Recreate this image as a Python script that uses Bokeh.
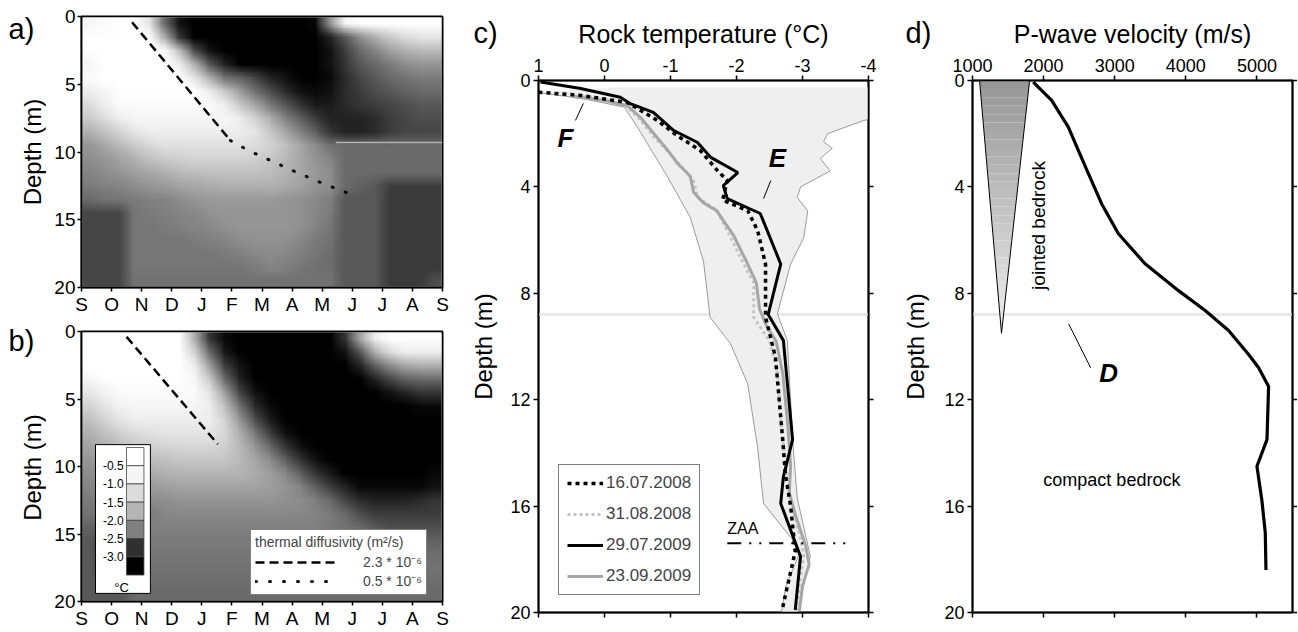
import zlib
import struct
import base64
import numpy as np
from bokeh.plotting import figure
from bokeh.models import (Range1d, LinearAxis, FixedTicker, Legend, LegendItem, Label, Span)
from bokeh.layouts import row, column
from bokeh.embed import file_html
from bokeh.resources import INLINE

FONT = "Liberation Sans"

# ---------------- data ----------------
months = ["S", "O", "N", "D", "J", "F", "M", "A", "M", "J", "J", "A", "S"]
depth_ticks_ab = [0, 5, 10, 15, 20]
depth_ticks_cd = [0, 4, 8, 12, 16, 20]
temp_ticks = [1, 0, -1, -2, -3, -4]
temp_tick_labels = ["1", "0", "-1", "-2", "-3", "-4"]
vp_ticks = [1000, 2000, 3000, 4000, 5000]

# colour scale of the temperature maps (deg C), as in the colour bar
cb_levels = [0.0, -0.5, -1.0, -1.5, -2.0, -2.5, -3.0, -3.5]
cb_labels = ["-0.5", "-1.0", "-1.5", "-2.0", "-2.5", "-3.0"]
scale_T = [-3.5, -3.25, -2.75, -2.25, -1.75, -1.25, -0.75, -0.5, 0.0]
scale_grey = [0, 0, 48, 128, 181, 220, 245, 255, 255]

# temperature maps: rows = depth 0.5..19.5 m, 24 half-month columns (Sep..Aug),
# written as runs of (temperature, number of columns)
temp_a_rows = [
    [(-0.72, 1), (-0.61, 1), (-0.4, 2), (-1.07, 1), (-2.39, 1), (-3.06, 1), (-3.25, 8), (-3.16, 1), (-2.05, 1), (-0.72, 1), (-0.4, 6)],
    [(-0.4, 5), (-1.8, 1), (-2.72, 1), (-3.25, 9), (-2.89, 1), (-2.5, 1), (-2.13, 1), (-1.8, 1), (-1.48, 1), (-1.25, 1), (-1.07, 2)],
    [(-0.4, 6), (-1.59, 1), (-2.56, 1), (-3.06, 1), (-3.25, 7), (-3.06, 1), (-2.67, 1), (-2.39, 1), (-2.21, 1), (-1.96, 1), (-1.8, 1), (-1.7, 2)],
    [(-0.72, 1), (-0.4, 5), (-0.89, 1), (-1.8, 1), (-2.5, 1), (-2.89, 1), (-3.25, 6), (-3.06, 1), (-2.72, 1), (-2.5, 1), (-2.39, 1), (-2.28, 1), (-2.13, 1), (-2.05, 2)],
    [(-0.61, 1), (-0.4, 6), (-1.07, 1), (-1.8, 1), (-2.34, 1), (-2.44, 1), (-2.61, 1), (-2.89, 1), (-3.06, 1), (-3.25, 2), (-3.16, 1), (-2.79, 1), (-2.61, 1), (-2.5, 1), (-2.39, 1), (-2.34, 1), (-2.28, 2)],
    [(-0.89, 1), (-0.72, 1), (-0.4, 6), (-0.89, 1), (-1.48, 1), (-1.96, 1), (-2.34, 1), (-2.56, 1), (-2.79, 1), (-3.06, 1), (-3.16, 1), (-3.06, 1), (-2.79, 1), (-2.67, 1), (-2.56, 1), (-2.5, 1), (-2.44, 1), (-2.39, 2)],
    [(-1.25, 1), (-0.89, 1), (-0.61, 7), (-0.89, 1), (-1.48, 1), (-1.88, 1), (-2.28, 1), (-2.5, 1), (-2.72, 1), (-2.98, 2), (-2.79, 1), (-2.72, 1), (-2.67, 1), (-2.61, 1), (-2.56, 1), (-2.5, 2)],
    [(-1.48, 1), (-1.25, 1), (-0.89, 1), (-0.72, 7), (-0.89, 1), (-1.36, 1), (-1.8, 1), (-2.21, 1), (-2.44, 1), (-2.67, 1), (-2.89, 3), (-2.79, 1), (-2.67, 1), (-2.61, 1), (-2.56, 2)],
    [(-1.8, 1), (-1.59, 1), (-1.36, 1), (-1.07, 1), (-0.89, 7), (-1.07, 1), (-1.48, 1), (-1.88, 1), (-2.21, 1), (-2.44, 1), (-2.72, 1), (-2.89, 2), (-2.79, 1), (-2.67, 1), (-2.61, 3)],
    [(-2.05, 1), (-1.88, 1), (-1.7, 1), (-1.48, 1), (-1.31, 1), (-1.16, 6), (-1.25, 1), (-1.36, 1), (-1.59, 1), (-1.88, 1), (-2.13, 1), (-2.34, 1), (-2.39, 7)],
    [(-2.13, 1), (-2.05, 1), (-1.92, 1), (-1.8, 1), (-1.59, 1), (-1.48, 1), (-1.42, 1), (-1.36, 4), (-1.42, 1), (-1.53, 1), (-1.7, 1), (-1.88, 1), (-2.05, 1), (-2.21, 1), (-2.39, 7)],
    [(-2.21, 1), (-2.13, 1), (-2.05, 1), (-1.96, 1), (-1.88, 1), (-1.8, 1), (-1.7, 1), (-1.65, 1), (-1.59, 4), (-1.65, 1), (-1.76, 1), (-1.88, 1), (-2.0, 1), (-2.13, 1), (-2.39, 7)],
    [(-2.28, 1), (-2.25, 1), (-2.21, 1), (-2.13, 1), (-2.05, 1), (-2.0, 1), (-1.92, 1), (-1.88, 1), (-1.84, 1), (-1.8, 4), (-1.84, 1), (-1.92, 1), (-2.05, 1), (-2.13, 1), (-2.39, 1), (-2.44, 1), (-2.5, 1), (-2.67, 4)],
    [(-2.39, 1), (-2.34, 1), (-2.31, 1), (-2.28, 1), (-2.25, 1), (-2.21, 1), (-2.13, 1), (-2.05, 1), (-2.0, 5), (-2.05, 1), (-2.09, 1), (-2.17, 1), (-2.25, 1), (-2.5, 3), (-2.69, 4)],
    [(-2.61, 3), (-2.31, 1), (-2.28, 1), (-2.25, 1), (-2.21, 1), (-2.17, 1), (-2.09, 1), (-2.05, 5), (-2.09, 1), (-2.17, 1), (-2.28, 1), (-2.5, 3), (-2.69, 4)],
    [(-2.61, 3), (-2.31, 2), (-2.28, 1), (-2.25, 1), (-2.21, 1), (-2.17, 1), (-2.09, 1), (-2.05, 4), (-2.09, 1), (-2.21, 1), (-2.31, 1), (-2.5, 3), (-2.69, 4)],
    [(-2.61, 3), (-2.31, 4), (-2.28, 1), (-2.25, 1), (-2.21, 1), (-2.13, 1), (-2.09, 3), (-2.17, 1), (-2.28, 1), (-2.34, 1), (-2.5, 3), (-2.69, 4)],
    [(-2.61, 3), (-2.31, 6), (-2.28, 1), (-2.25, 1), (-2.17, 1), (-2.13, 1), (-2.17, 1), (-2.25, 1), (-2.31, 1), (-2.36, 1), (-2.5, 3), (-2.69, 4)],
    [(-2.61, 3), (-2.31, 8), (-2.28, 1), (-2.21, 1), (-2.25, 1), (-2.31, 1), (-2.34, 1), (-2.36, 1), (-2.5, 3), (-2.69, 4)],
    [(-2.61, 3), (-2.34, 14), (-2.5, 3), (-2.69, 3), (-2.56, 1)],
]

temp_b_rows = [
    [(-0.4, 7), (-1.8, 1), (-2.72, 1), (-3.16, 1), (-3.25, 7), (-2.72, 1), (-1.88, 1), (-0.89, 1), (-0.4, 4)],
    [(-0.4, 7), (-1.36, 1), (-2.39, 1), (-2.98, 1), (-3.25, 7), (-3.06, 1), (-2.5, 1), (-1.8, 1), (-1.25, 1), (-0.89, 3)],
    [(-0.4, 7), (-0.89, 1), (-1.96, 1), (-2.67, 1), (-3.06, 1), (-3.25, 7), (-2.89, 1), (-2.44, 1), (-2.13, 1), (-1.88, 1), (-1.8, 2)],
    [(-0.72, 1), (-0.4, 6), (-0.72, 1), (-1.48, 1), (-2.39, 1), (-2.89, 1), (-3.25, 8), (-2.89, 1), (-2.61, 1), (-2.44, 1), (-2.39, 2)],
    [(-1.07, 1), (-0.81, 1), (-0.61, 6), (-1.07, 1), (-1.96, 1), (-2.61, 1), (-3.06, 1), (-3.25, 8), (-3.06, 1), (-2.89, 1), (-2.72, 2)],
    [(-1.36, 1), (-1.07, 1), (-0.81, 1), (-0.72, 5), (-0.89, 1), (-1.59, 1), (-2.34, 1), (-2.79, 1), (-3.16, 1), (-3.25, 9), (-3.16, 2)],
    [(-1.59, 1), (-1.36, 1), (-1.07, 1), (-0.89, 6), (-1.36, 1), (-2.05, 1), (-2.56, 1), (-2.98, 1), (-3.25, 11)],
    [(-1.8, 1), (-1.59, 1), (-1.42, 1), (-1.25, 1), (-1.16, 1), (-1.07, 4), (-1.31, 1), (-1.8, 1), (-2.28, 1), (-2.67, 1), (-3.06, 1), (-3.25, 10)],
    [(-1.92, 1), (-1.8, 1), (-1.65, 1), (-1.53, 1), (-1.42, 1), (-1.36, 1), (-1.31, 3), (-1.42, 1), (-1.7, 1), (-2.05, 1), (-2.39, 1), (-2.72, 1), (-3.06, 1), (-3.25, 9)],
    [(-2.05, 1), (-1.96, 1), (-1.84, 1), (-1.76, 1), (-1.65, 1), (-1.59, 1), (-1.53, 4), (-1.7, 1), (-1.88, 1), (-2.13, 1), (-2.44, 1), (-2.72, 1), (-3.06, 1), (-3.25, 8)],
    [(-2.13, 1), (-2.09, 1), (-2.0, 1), (-1.92, 1), (-1.84, 1), (-1.8, 1), (-1.76, 5), (-1.84, 1), (-1.96, 1), (-2.17, 1), (-2.44, 1), (-2.72, 1), (-2.98, 1), (-3.25, 6), (-3.16, 1)],
    [(-2.21, 1), (-2.17, 1), (-2.13, 1), (-2.05, 1), (-2.0, 1), (-1.96, 1), (-1.92, 6), (-1.96, 1), (-2.05, 1), (-2.21, 1), (-2.44, 1), (-2.67, 1), (-2.89, 1), (-3.16, 5), (-3.06, 1)],
    [(-2.28, 1), (-2.25, 1), (-2.21, 1), (-2.13, 3), (-2.05, 7), (-2.09, 1), (-2.13, 1), (-2.25, 1), (-2.39, 1), (-2.61, 1), (-2.79, 1), (-2.89, 3), (-2.79, 1), (-2.72, 1)],
    [(-2.34, 2), (-2.28, 3), (-2.17, 10), (-2.21, 1), (-2.28, 1), (-2.39, 1), (-2.56, 1), (-2.67, 5)],
    [(-2.44, 1), (-2.5, 1), (-2.56, 1), (-2.44, 1), (-2.25, 12), (-2.28, 1), (-2.34, 1), (-2.39, 1), (-2.5, 1), (-2.56, 4)],
    [(-2.5, 1), (-2.61, 1), (-2.67, 1), (-2.5, 1), (-2.28, 13), (-2.31, 1), (-2.34, 1), (-2.39, 1), (-2.44, 4)],
    [(-2.5, 1), (-2.61, 1), (-2.67, 1), (-2.5, 1), (-2.31, 15), (-2.36, 5)],
    [(-2.5, 1), (-2.56, 1), (-2.58, 1), (-2.44, 1), (-2.34, 20)],
    [(-2.5, 3), (-2.39, 1), (-2.36, 20)],
    [(-2.5, 3), (-2.39, 21)],
]

# panel a/b: penetration of the cold front (thermal diffusivity lines), months since 1 Sep / depth
fast_a_t = [1.68, 4.95]
fast_a_d = [0.42, 9.15]
slow_a_t = [4.95, 5.56, 7.05, 8.0, 9.04]
slow_a_d = [9.15, 9.9, 11.4, 12.3, 13.2]
fast_b_t = [1.5, 4.53]
fast_b_d = [0.4, 8.35]
seam_a_t = [8.45, 12.0]
seam_a_d = [9.3, 9.3]

# panel c: rock temperature profiles
p160708_T = [1.0, 0.36, -0.35, -0.8, -1.1, -1.45, -1.71, -1.86, -1.79, -2.17, -2.32, -2.44, -2.44, -2.59, -2.7, -2.74, -2.82, -2.89, -2.7]
p160708_d = [0.44, 0.56, 0.83, 1.5, 2.07, 2.63, 3.38, 3.76, 4.5, 4.89, 5.64, 6.9, 8.9, 10.4, 13.5, 14.8, 16.0, 17.7, 19.8]
p310808_T = [0.5, 0.0, -0.35, -0.55, -0.74, -1.05, -1.35, -1.41, -1.71, -1.91, -2.11, -2.26, -2.26, -2.5, -2.62, -2.68, -2.75, -2.82, -2.95, -3.02, -2.95, -2.9]
p310808_d = [0.55, 0.7, 1.0, 1.5, 2.1, 2.9, 3.76, 4.4, 4.9, 5.9, 6.9, 7.6, 8.9, 9.8, 11.0, 13.0, 14.5, 15.8, 17.0, 17.8, 19.0, 20.0]
p290709_T = [0.97, 0.36, -0.24, -0.39, -0.74, -1.05, -1.41, -1.61, -2.02, -1.8, -1.86, -2.36, -2.67, -2.48, -2.71, -2.85, -2.71, -2.67, -2.97, -2.89]
p290709_d = [0.06, 0.3, 0.63, 0.87, 1.2, 1.88, 2.33, 2.89, 3.46, 3.95, 4.44, 5.0, 6.9, 8.8, 9.77, 13.5, 14.9, 15.9, 17.9, 19.9]
p230909_T = [0.45, 0.0, -0.35, -0.55, -0.75, -0.95, -1.1, -1.3, -1.35, -1.5, -1.7, -1.95, -2.15, -2.3, -2.35, -2.45, -2.6, -2.7, -2.78, -2.82, -2.8, -2.9, -3.05, -3.1, -3.0, -2.95]
p230909_d = [0.6, 0.75, 0.95, 1.4, 2.0, 2.6, 3.1, 3.6, 4.2, 4.6, 4.9, 5.8, 6.8, 7.6, 8.6, 9.2, 9.8, 11.0, 13.0, 14.5, 15.5, 16.4, 17.5, 18.2, 19.0, 20.0]
env_left_T = [1.0, 0.3, -0.3, -0.5, -0.95, -1.3, -1.5, -1.6, -1.91, -2.17, -2.32, -2.41, -2.86, -2.95, -2.75, -2.68]
env_left_d = [0.45, 0.7, 1.0, 1.76, 3.6, 5.15, 6.8, 8.9, 9.9, 11.4, 13.8, 15.9, 17.3, 17.8, 19.0, 20.0]
env_right_T = [-4.3, -3.93, -3.38, -3.32, -3.45, -3.27, -3.42, -2.97, -2.92, -3.08, -3.02, -2.82, -2.62, -2.77, -2.86, -2.92, -3.12, -2.97, -2.95]
env_right_d = [1.35, 1.5, 2.0, 2.3, 2.55, 2.93, 3.4, 4.0, 4.4, 4.9, 5.9, 6.9, 8.77, 9.77, 13.8, 15.7, 17.9, 19.5, 20.0]
env_top_T = [-4.3, -0.2]
env_top_d = [0.25, 0.25]
zaa_T = [-1.86, -3.68]
zaa_d = [17.4, 17.4]
marker_depth = 8.8

# panel d: P-wave velocity profile
vp = [1855, 2113, 2348, 2488, 2630, 2817, 3052, 3427, 3897, 4272, 4601, 4883, 5024, 5164, 5141, 5000, 5070, 5117, 5127]
vp_d = [0.06, 0.75, 1.75, 2.63, 3.5, 4.64, 5.76, 6.89, 7.9, 8.65, 9.4, 10.3, 10.8, 11.5, 13.5, 14.5, 15.8, 17.0, 18.4]
joint_v = [1099, 1803, 1408]
joint_d = [0.0, 0.0, 9.5]


# ---------------- helpers ----------------
def expand(runs):
    out = []
    for v, n in runs:
        out += [v] * n
    assert len(out) == 24, runs
    return out


def grey_hex(g):
    g = int(round(g))
    return "#%02x%02x%02x" % (g, g, g)


def grey_png(temps):
    """Temperature grid -> grey PNG (data URL) through the colour scale."""
    g = np.clip(np.round(np.interp(temps, scale_T, scale_grey)), 0, 255).astype(np.uint8)
    h, w = g.shape
    raw = b"".join(b"\x00" + g[i].tobytes() for i in range(h))

    def chunk(tag, data):
        c = struct.pack(">I", len(data)) + tag + data
        return c + struct.pack(">I", zlib.crc32(tag + data) & 0xFFFFFFFF)

    png = (b"\x89PNG\r\n\x1a\n" + chunk(b"IHDR", struct.pack(">IIBBBBB", w, h, 8, 0, 0, 0, 0))
           + chunk(b"IDAT", zlib.compress(raw, 9)) + chunk(b"IEND", b""))
    return "data:image/png;base64," + base64.b64encode(png).decode()


def make_fig(w, h, xr, yr, bl, br, bt, bb):
    p = figure(width=w, height=h, x_range=xr, y_range=yr, output_backend="svg",
               toolbar_location=None, x_axis_location=None, y_axis_location=None,
               min_border_left=bl, min_border_right=br, min_border_top=bt, min_border_bottom=bb)
    p.outline_line_color = "black"
    p.outline_line_width = 2
    p.outline_line_alpha = 1
    p.background_fill_color = "white"
    p.border_fill_color = "white"
    p.xgrid.visible = False
    p.ygrid.visible = False
    return p


def make_strip(w, h):
    s = figure(width=w, height=h, x_range=Range1d(0, w), y_range=Range1d(h, 0), title=None,
               output_backend="svg", toolbar_location=None, x_axis_location=None,
               y_axis_location=None, min_border_left=0, min_border_right=0,
               min_border_top=0, min_border_bottom=0)
    s.outline_line_color = None
    s.background_fill_color = "white"
    s.border_fill_color = "white"
    s.xgrid.visible = False
    s.ygrid.visible = False
    return s


def style_axis(ax, tick_size, label_size=20, standoff=3, tick_out=5, label_standoff=8):
    ax.axis_line_color = "black"
    ax.axis_line_width = 1.5
    ax.major_tick_line_color = "black"
    ax.major_tick_line_width = 1.5
    ax.major_tick_out = tick_out
    ax.major_tick_in = 0
    ax.minor_tick_line_color = None
    ax.major_label_text_font = FONT
    ax.major_label_text_font_size = f"{tick_size}px"
    ax.major_label_text_color = "black"
    ax.major_label_standoff = standoff
    ax.axis_label_text_font = FONT
    ax.axis_label_text_font_size = f"{label_size}px"
    ax.axis_label_text_font_style = "normal"
    ax.axis_label_text_color = "black"
    ax.axis_label_standoff = label_standoff


def add_label(p, x, y, text, size, style="normal", align="left", baseline="bottom", angle=0.0, color="black"):
    p.add_layout(Label(x=x, y=y, text=text, text_font=FONT, text_font_size=f"{size}px",
                       text_font_style=style, text_align=align, text_baseline=baseline,
                       angle=angle, text_color=color))


def map_panel(p, rows):
    grid = np.array([expand(r) for r in rows], dtype=float)
    p.image_url(url=[grey_png(grid)], x=0, y=0, w=12, h=20, anchor="top_left")
    ax = LinearAxis(ticker=FixedTicker(ticks=list(range(13))),
                    major_label_overrides={i: m for i, m in enumerate(months)})
    style_axis(ax, 19, standoff=2, tick_out=4)
    p.add_layout(ax, "below")
    ay = LinearAxis(ticker=FixedTicker(ticks=depth_ticks_ab))
    style_axis(ay, 19, standoff=2, tick_out=4)
    p.add_layout(ay, "left")


H = 631

# ---------------- panel a ----------------
pa = make_fig(404, 318, Range1d(0, 12), Range1d(20, 0), 35, 8, 16, 31)
map_panel(pa, temp_a_rows)
pa.line(seam_a_t, seam_a_d, line_color="#b4b4b4", line_width=1.5)
pa.line(fast_a_t, fast_a_d, line_color="black", line_width=2.5, line_dash="9 5")
pa.line(slow_a_t, slow_a_d, line_color="black", line_width=3, line_dash="1 13", line_cap="round")

# ---------------- panel b ----------------
pb = make_fig(404, 313, Range1d(0, 12), Range1d(20, 0), 35, 8, 13, 28)
map_panel(pb, temp_b_rows)
r_fast_b = pb.line(fast_b_t, fast_b_d, line_color="black", line_width=2.5, line_dash="9 5")
r_slow_b = pb.line([np.nan], [np.nan], line_color="black", line_width=3, line_dash="1 13", line_cap="round")

# colour bar (inset of panel b)
pb.quad(left=[0.465], right=[2.29], top=[8.38], bottom=[19.4], fill_color="white",
        line_color="black", line_width=1)
band_h = (18.04 - 8.59) / (len(cb_levels) - 1)
band_top = [8.59 + i * band_h for i in range(len(cb_levels) - 1)]
band_bot = [t + band_h for t in band_top]
band_mid = [(cb_levels[i] + cb_levels[i + 1]) / 2 for i in range(len(cb_levels) - 1)]
band_col = [grey_hex(g) for g in np.interp(band_mid, scale_T, scale_grey)]
pb.quad(left=1.495, right=2.076, top=band_top, bottom=band_bot, fill_color=band_col,
        line_color="#444444", line_width=0.8)
for i, lab in enumerate(cb_labels):
    add_label(pb, 1.40, band_bot[i], lab, 12, align="right", baseline="middle")
add_label(pb, 1.33, 18.95, "°C", 13, align="center", baseline="middle")

leg_b = Legend(items=[LegendItem(label="2.3 * 10⁻⁶", renderers=[r_fast_b]),
                      LegendItem(label="0.5 * 10⁻⁶", renderers=[r_slow_b])],
               location=(169, 6), title="thermal diffusivity (m²/s)",
               title_text_font=FONT, title_text_font_size="14px", title_text_font_style="normal",
               label_text_font=FONT, label_text_font_size="14px",
               glyph_width=80, glyph_height=12, spacing=0, padding=4, margin=0,
               label_standoff=28, title_standoff=2,
               border_line_color="black", border_line_width=1, background_fill_alpha=1)
pb.add_layout(leg_b)

# ---------------- panel c ----------------
pc = make_fig(375, H, Range1d(1, -4), Range1d(20, 0), 33, 12, 80, 19)
pc.add_layout(Span(location=marker_depth, dimension="width", line_color="#e8e8e8",
                   line_width=3, level="underlay"))
pc.patch(env_left_T + env_right_T[::-1] + env_top_T, env_left_d + env_right_d[::-1] + env_top_d,
         fill_color="#efefef", line_color=None)
pc.line(env_left_T, env_left_d, line_color="#9a9a9a", line_width=1)
pc.line(env_right_T, env_right_d, line_color="#9a9a9a", line_width=1)
r31 = pc.line(p310808_T, p310808_d, line_color="#c4c4c4", line_width=3, line_dash="3 3")
r23 = pc.line(p230909_T, p230909_d, line_color="#a6a6a6", line_width=3)
r16 = pc.line(p160708_T, p160708_d, line_color="black", line_width=3.5, line_dash="4 4")
r29 = pc.line(p290709_T, p290709_d, line_color="black", line_width=3)
pc.line(zaa_T, zaa_d, line_color="black", line_width=2, line_dash="14 8 2 8 2 8")
add_label(pc, -1.86, 17.15, "ZAA", 16)
pc.segment(x0=[0.32], y0=[0.86], x1=[0.44], y1=[1.5], line_color="black", line_width=1)
add_label(pc, 0.59, 2.18, "F", 26, style="bold italic", align="center", baseline="middle")
pc.segment(x0=[-2.52], y0=[3.76], x1=[-2.41], y1=[4.44], line_color="black", line_width=1)
add_label(pc, -2.62, 2.93, "E", 26, style="bold italic", align="center", baseline="middle")

ax_top = LinearAxis(ticker=FixedTicker(ticks=temp_ticks), axis_label="Rock temperature (°C)",
                    major_label_overrides=dict(zip(temp_ticks, temp_tick_labels)))
style_axis(ax_top, 18, label_size=25, standoff=4, tick_out=5, label_standoff=8)
pc.add_layout(ax_top, "above")
ax_bot = LinearAxis(ticker=FixedTicker(ticks=temp_ticks),
                    major_label_overrides={t: "" for t in temp_ticks})
style_axis(ax_bot, 1, standoff=0, tick_out=5)
pc.add_layout(ax_bot, "below")
ay_l = LinearAxis(ticker=FixedTicker(ticks=depth_ticks_cd))
style_axis(ay_l, 18, standoff=3, tick_out=5)
pc.add_layout(ay_l, "left")
ay_r = LinearAxis(ticker=FixedTicker(ticks=depth_ticks_cd),
                  major_label_overrides={t: "" for t in depth_ticks_cd})
style_axis(ay_r, 1, standoff=0, tick_out=5)
pc.add_layout(ay_r, "right")

leg_c = Legend(items=[LegendItem(label="16.07.2008", renderers=[r16]),
                      LegendItem(label="31.08.2008", renderers=[r31]),
                      LegendItem(label="29.07.2009", renderers=[r29]),
                      LegendItem(label="23.09.2009", renderers=[r23])],
               location=(20, 17), label_text_font=FONT, label_text_font_size="17px",
               glyph_width=36, glyph_height=20, spacing=11, padding=8, margin=0,
               label_standoff=3, border_line_color="black", border_line_width=1,
               background_fill_alpha=1)
pc.add_layout(leg_c)

# ---------------- panel d ----------------
pd = make_fig(359, H, Range1d(1000, 5500), Range1d(20, 0), 34, 5, 80, 19)
pd.add_layout(Span(location=marker_depth, dimension="width", line_color="#e8e8e8",
                   line_width=3, level="underlay"))
n_sl = 30
xs, ys, cols = [], [], []
for i in range(n_sl):
    f0, f1 = i / n_sl, (i + 1) / n_sl
    l0 = joint_v[0] + (joint_v[2] - joint_v[0]) * f0
    l1 = joint_v[0] + (joint_v[2] - joint_v[0]) * f1
    r0 = joint_v[1] + (joint_v[2] - joint_v[1]) * f0
    r1 = joint_v[1] + (joint_v[2] - joint_v[1]) * f1
    d0 = joint_d[0] + (joint_d[2] - joint_d[0]) * f0
    d1 = joint_d[0] + (joint_d[2] - joint_d[0]) * f1
    xs.append([l0, r0, r1, l1])
    ys.append([d0, d0, d1, d1])
    cols.append(grey_hex(150 + 88 * (f0 + f1) / 2))
pd.patches(xs, ys, fill_color=cols, line_color=None)
pd.patch(joint_v, joint_d, fill_color=None, line_color="black", line_width=1)
pd.line(vp, vp_d, line_color="black", line_width=3.2, line_join="round")
add_label(pd, 1930, 5.45, "jointed bedrock", 19, align="center", baseline="middle", angle=np.pi / 2)
add_label(pd, 2960, 15.0, "compact bedrock", 18, align="center", baseline="middle")
pd.segment(x0=[2352], y0=[9.15], x1=[2662], y1=[10.8], line_color="black", line_width=1)
add_label(pd, 2915, 11.0, "D", 26, style="bold italic", align="center", baseline="middle")

ax_top_d = LinearAxis(ticker=FixedTicker(ticks=vp_ticks), axis_label="P-wave velocity (m/s)")
style_axis(ax_top_d, 18, label_size=25, standoff=4, tick_out=5, label_standoff=8)
pd.add_layout(ax_top_d, "above")
ax_bot_d = LinearAxis(ticker=FixedTicker(ticks=vp_ticks),
                      major_label_overrides={t: "" for t in vp_ticks})
style_axis(ax_bot_d, 1, standoff=0, tick_out=5)
pd.add_layout(ax_bot_d, "below")
ay_ld = LinearAxis(ticker=FixedTicker(ticks=depth_ticks_cd))
style_axis(ay_ld, 18, standoff=3, tick_out=5)
pd.add_layout(ay_ld, "left")
ay_rd = LinearAxis(ticker=FixedTicker(ticks=depth_ticks_cd),
                   major_label_overrides={t: "" for t in depth_ticks_cd})
style_axis(ay_rd, 1, standoff=0, tick_out=5)
pd.add_layout(ay_rd, "right")

# ---------------- side strips: panel letters and depth titles ----------------
s_ab = make_strip(46, H)
add_label(s_ab, 8, 28, "a)", 29, baseline="alphabetic")
add_label(s_ab, 8, 340, "b)", 29, baseline="alphabetic")
add_label(s_ab, 31.5, 151.5, "Depth (m)", 24, align="center", baseline="middle", angle=np.pi / 2)
add_label(s_ab, 31.5, 467, "Depth (m)", 24, align="center", baseline="middle", angle=np.pi / 2)

s_c = make_strip(55, H)
add_label(s_c, 23, 32, "c)", 29, baseline="alphabetic")
add_label(s_c, 32.5, 346, "Depth (m)", 24, align="center", baseline="middle", angle=np.pi / 2)

s_d = make_strip(58, H)
add_label(s_d, 25, 32, "d)", 29, baseline="alphabetic")
add_label(s_d, 35, 346, "Depth (m)", 24, align="center", baseline="middle", angle=np.pi / 2)

layout = row(column(s_ab), column(pa, pb), column(s_c), pc, column(s_d), pd)
open("out.html", "w").write(file_html(layout, INLINE))
